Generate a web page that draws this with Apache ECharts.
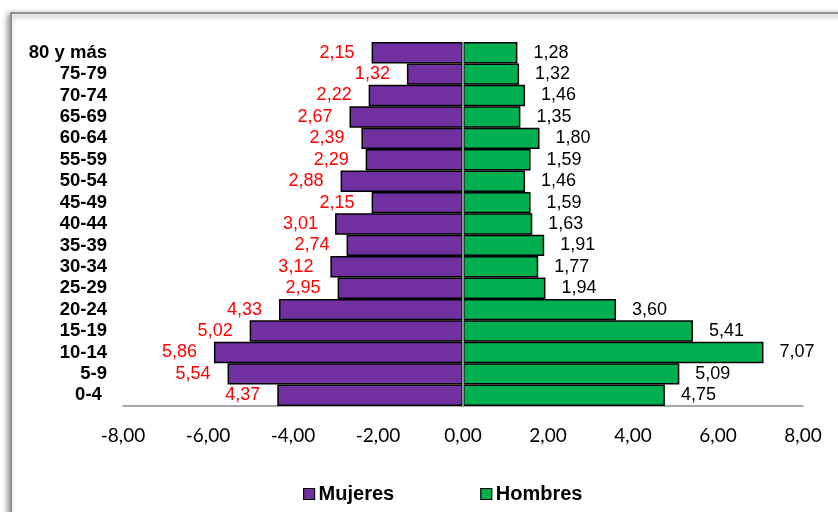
<!DOCTYPE html>
<html>
<head>
<meta charset="utf-8">
<script src="https://cdn.jsdelivr.net/npm/echarts@6/dist/echarts.min.js"></script>
<style>html,body{margin:0;padding:0;background:#fff}#c{width:838px;height:512px}</style>
</head>
<body>
<div id="c"></div>
<script>
var categories = ['80 y más','75-79','70-74','65-69','60-64','55-59','50-54','45-49','40-44','35-39','30-34','25-29','20-24','15-19','10-14','5-9','0-4 '];
var mujeres = [2.15,1.32,2.22,2.67,2.39,2.29,2.88,2.15,3.01,2.74,3.12,2.95,4.33,5.02,5.86,5.54,4.37];
var hombres = [1.28,1.32,1.46,1.35,1.80,1.59,1.46,1.59,1.63,1.91,1.77,1.94,3.60,5.41,7.07,5.09,4.75];
var xTicks = {min:-8, max:8, interval:2};

function fmt(v){ return Math.abs(v).toFixed(2).replace('.', ','); }

var chart = echarts.init(document.getElementById('c'));
chart.setOption({
  animation:false,
  graphic:[{
    type:'rect', z:-10, silent:true,
    shape:{x:11,y:13,width:900,height:600},
    style:{fill:'#fff', stroke:'#8f8f8f', lineWidth:2, shadowBlur:6, shadowColor:'rgba(0,0,0,0.45)', shadowOffsetX:-2, shadowOffsetY:2}
  }],
  grid:{left:123, right:35, top:42, bottom:106, containLabel:false},
  legend:{
    bottom:3, left:298, itemWidth:11, itemHeight:11, itemGap:86,
    icon:'rect',
    textStyle:{fontFamily:'Liberation Sans, Arial', fontWeight:'bold', fontSize:20, color:'#000', padding:[0,0,0,-1]},
    data:[{name:'Mujeres', itemStyle:{borderColor:'#000', borderWidth:1.2}},{name:'Hombres', itemStyle:{borderColor:'#000', borderWidth:1.2}}]
  },
  xAxis:{
    type:'value', min:xTicks.min, max:xTicks.max, interval:xTicks.interval,
    axisLine:{show:true, onZero:false, lineStyle:{color:'#8c8c8c', width:1.5}},
    axisTick:{show:false}, splitLine:{show:false},
    axisLabel:{formatter:function(v){return v.toFixed(2).replace('.', ',');}, color:'#000', fontSize:19, margin:20, fontFamily:'Lato, Liberation Sans, Arial'}
  },
  yAxis:{
    type:'category', data:categories, inverse:true,
    axisLine:{show:false, onZero:false}, axisTick:{show:false},
    axisLabel:{interval:0, color:'#000', fontWeight:'bold', fontSize:18.5, margin:16, fontFamily:'Liberation Sans, Arial'}
  },
  series:[{
    name:'Mujeres', type:'bar', stack:'t', barCategoryGap:'0%',
    data:mujeres.map(function(v){return -v;}),
    itemStyle:{color:'#7030A0', borderColor:'#000', borderWidth:1.5},
    label:{show:true, position:'left', distance:17, color:'#FF0000', fontSize:18, fontFamily:'Liberation Sans, Arial', formatter:function(p){return fmt(p.value);}},
    markLine:{silent:true, symbol:'none', label:{show:false}, lineStyle:{color:'#8c8c8c', type:'solid', width:2}, data:[{xAxis:0}]}
  },{
    name:'Hombres', type:'bar', stack:'t', barCategoryGap:'0%',
    data:hombres,
    itemStyle:{color:'#00B050', borderColor:'#000', borderWidth:1.5},
    label:{show:true, position:'right', distance:16, color:'#000', fontSize:18, fontFamily:'Liberation Sans, Arial', formatter:function(p){return fmt(p.value);}}
  }]
});
</script>
</body>
</html>
